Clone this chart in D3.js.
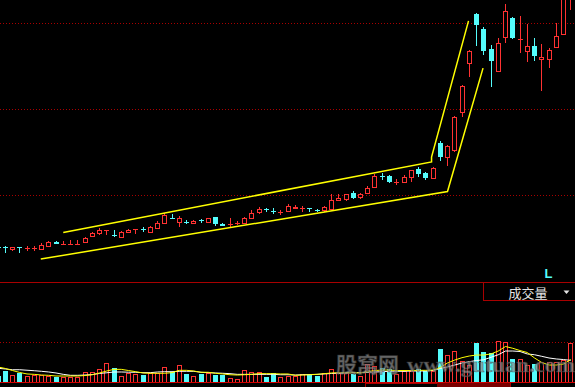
<!DOCTYPE html>
<html>
<head>
<meta charset="utf-8">
<script src="https://cdn.jsdelivr.net/npm/d3@7"></script>
<style>
  html, body { margin: 0; padding: 0; background: #000; }
  svg { display: block; }
</style>
</head>
<body>
<div id="chart"></div>
<script>
// --- données (cours en yuan, volume en unités arbitraires) ---
const open = [6.78,6.79,6.74,6.78,6.76,6.76,6.74,6.82,6.91,6.85, 6.86,6.85,6.91,7.04,7.11,7.18,7.08,7.03,7.14,7.20,
  7.21,7.15,7.23,7.34,7.46,7.38,7.38,7.36,7.43,7.38, 7.48,7.33,7.32,7.35,7.36,7.46,7.60,7.67,7.63,7.595,
  7.63,7.69,7.69,7.69,7.65,7.64,7.68,7.88,7.90,8.05, 7.95,8.04,8.19,8.45,8.45,8.30,8.31,8.43,8.61,8.51,
  8.40,9.22,8.89,9.05,9.94,11.06,12.21,11.86,11.40,10.89, 11.68,12.11,11.62,11.36,11.47,11.16,11.16,11.44,11.74,12.60];
const high = [6.84,6.81,6.79,6.78,6.81,6.82,6.88,6.94,6.92,6.93, 6.95,6.95,7.03,7.15,7.23,7.19,7.19,7.17,7.20,7.21,
  7.25,7.29,7.40,7.58,7.55,7.51,7.43,7.41,7.44,7.47, 7.50,7.35,7.46,7.40,7.49,7.65,7.71,7.69,7.69,7.66,
  7.79,7.76,7.74,7.69,7.68,7.75,8.02,8.02,8.03,8.09, 8.05,8.21,8.48,8.52,8.46,8.37,8.47,8.59,8.64,8.54,
  8.66,9.26,9.16,9.84,10.56,11.37,12.23,11.91,11.49,11.64, 12.44,12.15,12.16,11.98,11.64,11.51,11.41,11.99,12.75,13.00];
const low = [6.72,6.65,6.70,6.66,6.70,6.70,6.72,6.80,6.85,6.85, 6.86,6.85,6.88,7.02,7.08,7.06,7.02,7.02,7.14,7.09,
  7.15,7.14,7.20,7.33,7.44,7.25,7.33,7.34,7.35,7.35, 7.29,7.27,7.25,7.30,7.32,7.44,7.55,7.61,7.55,7.54,
  7.60,7.67,7.61,7.60,7.60,7.61,7.65,7.88,7.87,7.91, 7.91,8.02,8.18,8.35,8.27,8.23,8.29,8.31,8.43,8.35,
  8.39,8.78,8.68,9.01,9.82,10.74,11.47,11.26,10.52,10.88, 11.54,11.62,11.31,11.10,11.12,10.43,10.95,11.43,11.73,12.30];
const close = [6.77,6.78,6.78,6.77,6.77,6.77,6.84,6.91,6.86,6.86, 6.865,6.86,7.01,7.12,7.19,7.19,7.07,7.15,7.18,7.205,
  7.20,7.25,7.36,7.54,7.45,7.47,7.37,7.40,7.39,7.46, 7.32,7.29,7.33,7.36,7.46,7.59,7.68,7.64,7.62,7.60,
  7.74,7.73,7.70,7.68,7.64,7.73,7.88,7.92,8.02,7.94, 8.03,8.17,8.45,8.44,8.30,8.31,8.43,8.58,8.48,8.40,
  8.62,8.88,9.14,9.81,10.54,11.35,11.95,11.36,11.12,11.53, 12.29,11.66,11.63,11.47,11.23,11.20,11.37,11.70,12.70,12.90];
const volume = [5.6,10.7,6.6,8.4,5.6,6.6,6.3,5.9,4.6,4.6, 4.6,4.6,9.4,10.0,12.4,18.6,13.5,5.6,8.7,7.7,
  6.9,8.2,9.0,14.5,10.0,16.8,7.7,5.6,7.7,8.4, 6.6,6.3,3.3,2.2,11.4,9.4,9.4,4.6,8.4,4.6,
  5.4,5.3,8.0,7.3,5.6,8.4,12.4,9.0,8.4,7.3, 5.3,17.6,15.8,13.5,12.4,7.7,10.4,10.4,13.1,10.4,
  10.4,33.2,27.0,30.9,21.2,17.3,39.3,30.1,29.1,41.3, 40.3,23.0,22.8,16.8,17.9,20.2,19.9,19.7,21.7,39.3];
const volMa5 = [14.8,13.3,11.2,9.2,7.7,7.3,6.6,6.3,5.6,5.6, 5.6,5.6,6.1,6.9,8.7,10.7,12.4,12.4,11.2,10.0,
  8.7,8.4,8.4,8.4,9.0,11.4,11.4,10.7,9.4,9.4, 8.4,7.7,6.9,6.6,6.9,7.3,8.0,8.0,8.0,7.7,
  7.7,6.3,6.6,6.9,7.3,8.0,8.7,9.0,9.0,9.0, 8.7,10.2,11.2,11.7,11.7,11.2,11.2,11.2,11.4,11.4,
  11.7,14.3,18.9,21.9,24.3,26.0,27.0,27.0,28.1,31.1, 35.7,33.9,31.6,29.6,24.0,19.4,16.8,16.8,17.9,22.4];
const volMa10 = [13.5,12.8,12.0,12.0,11.5,11.0,10.4,9.7,8.7,7.3, 6.3,6.3,6.6,7.1,8.2,8.9,9.7,9.7,9.5,9.4,
  9.0,9.0,9.7,10.0,10.0,10.4,10.4,10.4,9.4,9.0, 8.7,8.4,8.0,7.3,7.3,7.3,7.3,7.3,7.3,6.9,
  6.9,6.6,6.9,7.1,7.3,7.7,8.2,8.4,8.7,9.0, 9.0,9.4,9.7,10.0,10.4,10.4,10.4,10.7,10.7,10.7,
  11.2,13.3,14.8,16.8,18.9,20.2,21.4,22.2,24.7,27.3, 31.1,31.1,30.6,28.1,27.3,25.7,24.0,23.0,22.4,21.6];

// canal haussier tracé à la main : [indice de séance, cours]
const channelUpper = [[9.0, 7.13], [59.8, 8.77], [59.8, 8.88], [64.9, 12.05]];
const channelLower = [[5.9, 6.51], [62.0, 8.08], [66.9, 10.95]];
const priceGrid = [12, 10, 8];
const volGrid = [40];

// --- configuration ---
const width = 575, height = 387;
const red = "#ff3232", cyan = "#54fcfc", gridRed = "#a80000";

const candles = open.map((o, i) => ({
  i, o, h: high[i], l: low[i], c: close[i], v: volume[i], up: close[i] >= o
}));

const x = d3.scaleLinear().domain([0, candles.length - 1]).range([-2, 570.75]);
const y = d3.scaleLinear().domain([6, 12]).range([281, 23]);
const yv = d3.scaleLinear().domain([0, 40]).range([381.5, 342.3]);

const svg = d3.select("#chart").append("svg")
  .attr("width", width).attr("height", height)
  .style("background", "#000");

const defs = svg.append("defs");
defs.append("clipPath").attr("id", "clipPrice")
  .append("rect").attr("x", 0).attr("y", 0).attr("width", width).attr("height", 282);
defs.append("clipPath").attr("id", "clipVol")
  .append("rect").attr("x", 0).attr("y", 302).attr("width", width).attr("height", 80);

// grilles pointillées
svg.append("g").selectAll("line").data(priceGrid).join("line")
  .attr("x1", 0).attr("x2", width)
  .attr("y1", d => Math.round(y(d)) + 0.5).attr("y2", d => Math.round(y(d)) + 0.5)
  .attr("stroke", gridRed).attr("stroke-dasharray", "1,2");
svg.append("g").selectAll("line").data(volGrid).join("line")
  .attr("x1", 0).attr("x2", width)
  .attr("y1", d => Math.round(yv(d)) + 0.5).attr("y2", d => Math.round(yv(d)) + 0.5)
  .attr("stroke", gridRed).attr("stroke-dasharray", "1,2");

// --- chandeliers ---
const pg = svg.append("g").attr("clip-path", "url(#clipPrice)").attr("shape-rendering", "crispEdges");
const bx = d => Math.round(x(d.i) - 2.5);

candles.forEach(d => {
  const top = y(Math.max(d.o, d.c)), bot = y(Math.min(d.o, d.c));
  const col = d.up ? red : cyan;
  const cx = bx(d) + 2.5;
  const flat = bot - top < 1.5;
  if (d.up && !flat) {
    pg.append("line").attr("x1", cx).attr("x2", cx).attr("y1", y(d.h)).attr("y2", top).attr("stroke", col);
    pg.append("line").attr("x1", cx).attr("x2", cx).attr("y1", bot).attr("y2", y(d.l)).attr("stroke", col);
    pg.append("rect").attr("x", bx(d) + 0.5).attr("y", Math.round(top) + 0.5)
      .attr("width", 4).attr("height", Math.max(1, Math.round(bot) - Math.round(top)))
      .attr("fill", "#000").attr("stroke", col);
  } else {
    pg.append("line").attr("x1", cx).attr("x2", cx).attr("y1", y(d.h)).attr("y2", y(d.l)).attr("stroke", col);
    pg.append("rect").attr("x", bx(d)).attr("y", Math.round(top))
      .attr("width", 5).attr("height", Math.max(1, Math.round(bot) - Math.round(top)))
      .attr("fill", col);
  }
});

// canal jaune
const chLine = d3.line().x(d => x(d[0])).y(d => y(d[1]));
[channelUpper, channelLower].forEach(pts => {
  svg.append("path").attr("clip-path", "url(#clipPrice)")
    .datum(pts).attr("d", chLine)
    .attr("fill", "none").attr("stroke", "#ffff00").attr("stroke-width", 1.5);
});

// --- volume ---
const vg = svg.append("g").attr("clip-path", "url(#clipVol)").attr("shape-rendering", "crispEdges");
vg.selectAll("rect").data(candles).join("rect")
  .attr("x", d => d.up ? bx(d) + 0.5 : bx(d))
  .attr("y", d => Math.round(yv(d.v)) + (d.up ? 0.5 : 0))
  .attr("width", d => d.up ? 4 : 5)
  .attr("height", d => Math.round(yv(0)) - Math.round(yv(d.v)))
  .attr("fill", d => d.up ? "#000" : cyan)
  .attr("stroke", d => d.up ? red : "none");

const maLine = d3.line().x((d, i) => x(i)).y(d => yv(d));
svg.append("path").datum(volMa10).attr("d", maLine)
  .attr("fill", "none").attr("stroke", "#ffffff").attr("stroke-width", 1);
svg.append("path").datum(volMa5).attr("d", maLine)
  .attr("fill", "none").attr("stroke", "#ffff00").attr("stroke-width", 1);

// --- habillage ---
const chrome = svg.append("g").attr("shape-rendering", "crispEdges");
chrome.append("line").attr("x1", 0).attr("x2", width).attr("y1", 282.5).attr("y2", 282.5).attr("stroke", gridRed);
chrome.append("line").attr("x1", 483.5).attr("x2", 483.5).attr("y1", 282.5).attr("y2", 301).attr("stroke", gridRed);
chrome.append("line").attr("x1", 483.5).attr("x2", width).attr("y1", 300.5).attr("y2", 300.5).attr("stroke", gridRed);
chrome.append("line").attr("x1", 0).attr("x2", width).attr("y1", 382.5).attr("y2", 382.5)
  .attr("stroke", "#d00000").attr("stroke-width", 1);
chrome.append("rect").attr("x", 365.5).attr("y", 383.5).attr("width", 145).attr("height", 6)
  .attr("fill", "none").attr("stroke", gridRed);
chrome.append("rect").attr("x", 437).attr("y", 383).attr("width", 73).attr("height", 4).attr("fill", "#7a0000");

svg.append("text").attr("x", 528).attr("y", 298)
  .attr("text-anchor", "middle")
  .attr("font-family", "'Noto Sans CJK SC', sans-serif").attr("font-size", 13)
  .attr("fill", "#e6e6e6").text("成交量");
svg.append("path").attr("d", "M563.5,290.5 L569.5,290.5 L566.5,294 Z").attr("fill", "#e6e6e6");

svg.append("text").attr("x", 548.5).attr("y", 278)
  .attr("text-anchor", "middle")
  .attr("font-family", "'Liberation Sans', Arial, sans-serif").attr("font-weight", "bold")
  .attr("font-size", 13).attr("fill", cyan).text("L");

// filigrane
const wm = svg.append("g").attr("opacity", 0.72);
wm.append("text").attr("x", 336).attr("y", 372)
  .attr("font-family", "'Noto Sans CJK SC', sans-serif").attr("font-weight", "bold")
  .attr("font-size", 21).attr("fill", "#8c8c8c").attr("stroke", "#404040").attr("stroke-width", 0.6)
  .text("股窝网");
wm.append("text").attr("x", 407).attr("y", 372)
  .attr("font-family", "'Liberation Serif', serif").attr("font-weight", "bold")
  .attr("font-size", 22).attr("fill", "#8c8c8c").attr("stroke", "#404040").attr("stroke-width", 0.6)
  .attr("textLength", 168).attr("lengthAdjust", "spacingAndGlyphs")
  .text("www.gutuan.com");
</script>
</body>
</html>
